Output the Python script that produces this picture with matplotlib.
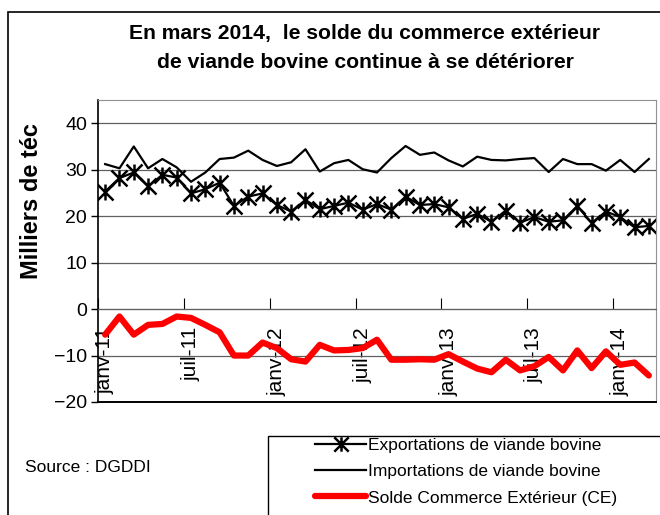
#Solde du commerce extérieur de viande bovine, janv-11 à mars-14
import numpy as np
import matplotlib.pyplot as plt
from matplotlib.path import Path
from matplotlib.patches import Rectangle

plt.rcParams['font.family'] = ['Liberation Sans', 'DejaVu Sans']

# Données mensuelles (milliers de téc)
mois = ['janv-11', 'févr-11', 'mars-11', 'avr-11', 'mai-11', 'juin-11',
        'juil-11', 'août-11', 'sept-11', 'oct-11', 'nov-11', 'déc-11',
        'janv-12', 'févr-12', 'mars-12', 'avr-12', 'mai-12', 'juin-12',
        'juil-12', 'août-12', 'sept-12', 'oct-12', 'nov-12', 'déc-12',
        'janv-13', 'févr-13', 'mars-13', 'avr-13', 'mai-13', 'juin-13',
        'juil-13', 'août-13', 'sept-13', 'oct-13', 'nov-13', 'déc-13',
        'janv-14', 'févr-14', 'mars-14']
exportations = [25.3, 28.2, 29.4, 26.4, 28.9, 28.3, 24.9, 25.8, 27.2, 22.2,
                24.2, 24.9, 22.4, 21.0, 23.5, 21.5, 22.2, 22.9, 21.4, 22.6,
                21.4, 24.2, 22.4, 22.6, 21.9, 19.4, 20.5, 18.8, 21.2, 18.6,
                19.8, 18.8, 19.1, 22.2, 18.5, 21.0, 19.8, 17.6, 17.9]
importations = [31.2, 30.3, 35.0, 30.3, 32.3, 30.5, 27.4, 29.4, 32.3, 32.6,
                34.1, 32.1, 30.8, 31.6, 34.4, 29.6, 31.4, 32.1, 30.1, 29.4,
                32.5, 35.1, 33.2, 33.7, 32.0, 30.7, 32.8, 32.1, 32.0, 32.3,
                32.5, 29.5, 32.3, 31.2, 31.2, 29.8, 32.1, 29.5, 32.3]
solde = [-5.5, -1.6, -5.5, -3.4, -3.2, -1.6, -1.9, -3.4, -5.0, -10.0,
         -10.0, -7.2, -8.4, -10.8, -11.3, -7.7, -8.9, -8.8, -8.4, -6.6,
         -10.9, -10.9, -10.8, -10.9, -9.7, -11.3, -12.8, -13.6, -10.9, -13.2,
         -12.3, -10.3, -13.2, -8.9, -12.7, -9.1, -12.0, -11.5, -14.3]
y_ticks = [-20, -10, 0, 10, 20, 30, 40]

x = np.arange(len(mois))

# marqueur étoile façon Excel : trait vertical + croix
etoile = Path([(0, -1), (0, 1), (-1, -1), (1, 1), (-1, 1), (1, -1)],
              [Path.MOVETO, Path.LINETO] * 3)

W, H = 660, 515
fig = plt.figure(figsize=(W / 100, H / 100), dpi=100)
ax = fig.add_axes([98 / W, 1 - 402 / H, 558 / W, 302 / H])

l_exp, = ax.plot(x, exportations, color='black', lw=1.6, marker=etoile,
                 markersize=11.5, markeredgewidth=1.8,
                 label='Exportations de viande bovine')
l_imp, = ax.plot(x, importations, color='black', lw=1.6,
                 label='Importations de viande bovine')
l_sol, = ax.plot(x, solde, color='#ff0000', lw=4.5, solid_joinstyle='round',
                 solid_capstyle='round', label='Solde Commerce Extérieur (CE)')

ax.set_xlim(-0.5, len(mois) - 0.5)
ax.set_ylim(-20, 45)
ax.set_yticks(y_ticks)
ax.tick_params(axis='y', direction='out', length=5, width=1, labelsize=14, pad=3)
ax.yaxis.grid(True, color='#606060', lw=0.9)
ax.set_axisbelow(True)

# axe des catégories placé sur 0, repères entre les mois
ax.spines['bottom'].set_position(('data', 0))
ax.spines['bottom'].set_color('#606060')
ax.set_xticks(np.arange(-0.5, len(mois), 6))
ax.set_xticklabels([])
ax.tick_params(axis='x', which='major', direction='in', length=8, color='black')
ax.set_xticks(x[::6], minor=True)
ax.set_xticklabels(mois[::6], minor=True, rotation=90, fontsize=15)
ax.tick_params(axis='x', which='minor', length=0, pad=13)

ax.spines['left'].set_linewidth(1.2)
ax.spines['top'].set_color('#909090')
ax.spines['right'].set_color('#909090')
ax.axhline(-20, color='black', lw=1.4, clip_on=False, zorder=5)

# titre et libellés
fig.text(365 / W, 1 - 33 / H, 'En mars 2014,  le solde du commerce extérieur',
         ha='center', va='center', fontsize=15.2, fontweight='bold')
fig.text(365 / W, 1 - 62 / H, 'de viande bovine continue à se détériorer',
         ha='center', va='center', fontsize=15.2, fontweight='bold')
fig.text(32 / W, 1 - 201 / H, 'Milliers de téc', rotation=90, ha='center',
         va='center', fontsize=17, fontweight='bold')
fig.text(25 / W, 1 - 467 / H, 'Source : DGDDI', ha='left', va='center',
         fontsize=12.5)

# cadre extérieur et cadre de la légende
fig.patches.append(Rectangle((8 / W, -0.1), 1.2, 1 - 12 / H + 0.1,
                             transform=fig.transFigure, fill=False,
                             edgecolor='black', lw=1.2))
fig.patches.append(Rectangle((268 / W, -0.1), 1.0, 1 - 436 / H + 0.1,
                             transform=fig.transFigure, fill=False,
                             edgecolor='black', lw=1.0))
fig.legend(handles=[l_exp, l_imp, l_sol], loc='upper left',
           bbox_to_anchor=(312 / W, 1 - 434 / H), frameon=False, fontsize=12.5,
           handlelength=2.9, handletextpad=0.15, labelspacing=0.65,
           borderpad=0.2, borderaxespad=0, markerscale=0.9)

fig.savefig('out.png', dpi=100)
